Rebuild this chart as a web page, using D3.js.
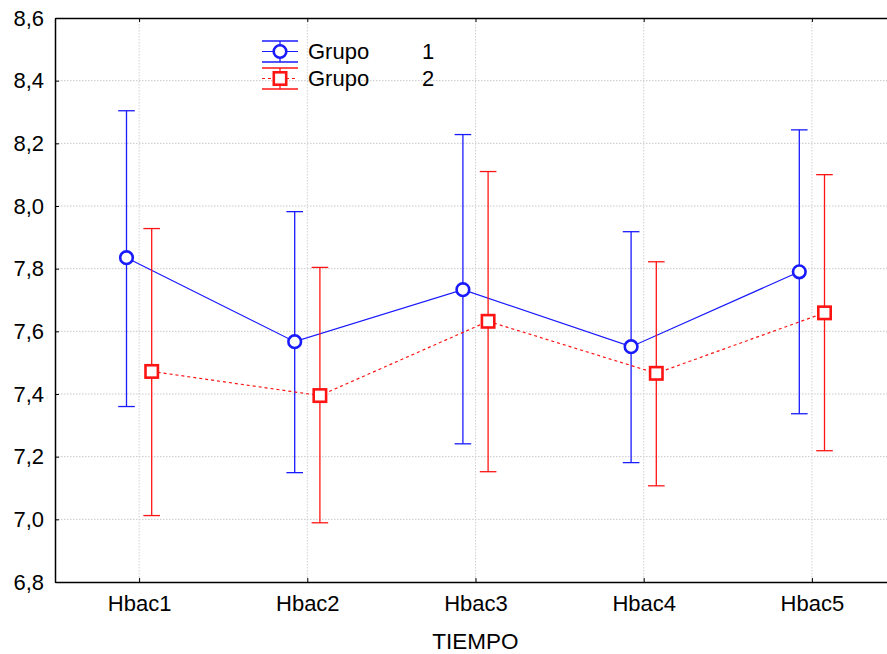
<!DOCTYPE html>
<html>
<head>
<meta charset="utf-8">
<script src="https://cdn.jsdelivr.net/npm/d3@7/dist/d3.min.js"></script>
<style>
  html, body { margin: 0; padding: 0; background: #fff; }
  svg { display: block; font-family: "Liberation Sans", Arial, sans-serif; }
</style>
</head>
<body>
<svg id="chart" width="887" height="654"></svg>
<script>
// Categories on the x axis
const categories = ["Hbac1", "Hbac2", "Hbac3", "Hbac4", "Hbac5"];

// Group 1: means and confidence limits
const grupo1Mean  = [7.835, 7.567, 7.733, 7.551, 7.790];
const grupo1Lower = [7.360, 7.149, 7.241, 7.181, 7.337];
const grupo1Upper = [8.304, 7.982, 8.228, 7.918, 8.243];

// Group 2: means and confidence limits
const grupo2Mean  = [7.472, 7.395, 7.632, 7.466, 7.659];
const grupo2Lower = [7.012, 6.989, 7.152, 7.107, 7.219];
const grupo2Upper = [7.928, 7.804, 8.110, 7.822, 8.100];

// Y tick values and labels
const yTicks = [6.8, 7.0, 7.2, 7.4, 7.6, 7.8, 8.0, 8.2, 8.4, 8.6];
const yTickLabels = ["6,8", "7,0", "7,2", "7,4", "7,6", "7,8", "8,0", "8,2", "8,4", "8,6"];

const xTitle = "TIEMPO";
const legendNames = ["Grupo", "Grupo"];
const legendCodes = ["1", "2"];

(function draw() {
  const svg = d3.select("#chart");
  const mLeft = 55, mTop = 18, mBottom = 582, mRight = 896;
  const fontSize = 22;

  const x = d3.scalePoint().domain(categories).range([mLeft, mRight]).padding(0.5);
  const y = d3.scaleLinear().domain([6.8, 8.6]).range([mBottom, mTop]);

  const groups = [
    { mean: grupo1Mean, lower: grupo1Lower, upper: grupo1Upper, color: "#1a1aff", offset: -12.6, marker: "circle", dash: null },
    { mean: grupo2Mean, lower: grupo2Lower, upper: grupo2Upper, color: "#ff1414", offset: 12.6, marker: "square", dash: "3,3" }
  ];

  // Grid lines
  const grid = svg.append("g");
  grid.selectAll("line.h").data(yTicks.slice(1, -1)).join("line")
    .attr("x1", mLeft).attr("x2", mRight)
    .attr("y1", d => y(d)).attr("y2", d => y(d))
    .attr("stroke", "#c8c8c8").attr("stroke-width", 1).attr("stroke-dasharray", "1.5,1.5");
  grid.selectAll("line.v").data(categories).join("line")
    .attr("x1", d => x(d)).attr("x2", d => x(d))
    .attr("y1", mTop).attr("y2", mBottom)
    .attr("stroke", "#d0d0d0").attr("stroke-width", 1).attr("stroke-dasharray", "1.5,1.5");

  // Axes
  const yAxis = d3.axisLeft(y).tickValues(yTicks).tickFormat((d, i) => yTickLabels[i])
    .tickSizeInner(-4).tickSizeOuter(0).tickPadding(11);
  const gy = svg.append("g").attr("transform", `translate(${mLeft},0)`).call(yAxis);
  gy.select(".domain").attr("stroke", "#000").attr("stroke-width", 1.5);
  gy.selectAll(".tick line").attr("stroke", "#000");
  gy.selectAll(".tick text").attr("font-size", fontSize).attr("fill", "#000")
    .attr("font-family", "Liberation Sans, Arial, sans-serif");

  const xAxis = d3.axisBottom(x).tickSizeInner(-4).tickSizeOuter(0).tickPadding(13);
  const gx = svg.append("g").attr("transform", `translate(0,${mBottom})`).call(xAxis);
  gx.select(".domain").attr("stroke", "#000").attr("stroke-width", 1.5);
  gx.selectAll(".tick line").attr("stroke", "#000");
  gx.selectAll(".tick text").attr("font-size", fontSize).attr("fill", "#000")
    .attr("font-family", "Liberation Sans, Arial, sans-serif");

  const xTopAxis = d3.axisTop(x).tickSizeInner(-4).tickSizeOuter(0).tickFormat("");
  const gt = svg.append("g").attr("transform", `translate(0,${mTop})`).call(xTopAxis);
  gt.select(".domain").attr("stroke", "#000").attr("stroke-width", 1.5);
  gt.selectAll(".tick line").attr("stroke", "#000");

  // Right frame (extends past the visible edge)
  svg.append("line").attr("x1", mRight).attr("x2", mRight).attr("y1", mTop).attr("y2", mBottom)
    .attr("stroke", "#000").attr("stroke-width", 1.5);

  svg.append("text").attr("x", (mLeft + mRight) / 2).attr("y", 649)
    .attr("text-anchor", "middle").attr("font-size", fontSize + 0.5).attr("fill", "#000")
    .text(xTitle);

  // Series: connecting lines, error bars, markers
  const capHalf = 8.3;
  groups.forEach(g => {
    const pts = categories.map((c, i) => ({ c, i, m: g.mean[i], lo: g.lower[i], hi: g.upper[i] }));
    const px = d => x(d.c) + g.offset;
    const line = d3.line().x(px).y(d => y(d.m));
    svg.append("path").datum(pts).attr("d", line)
      .attr("fill", "none").attr("stroke", g.color).attr("stroke-width", 1.2)
      .attr("stroke-dasharray", g.dash);

    const eb = svg.append("g").attr("stroke", g.color).attr("stroke-width", 1.3);
    eb.selectAll("line.stem").data(pts).join("line")
      .attr("x1", px).attr("x2", px).attr("y1", d => y(d.lo)).attr("y2", d => y(d.hi));
    eb.selectAll("line.capHi").data(pts).join("line")
      .attr("x1", d => px(d) - capHalf).attr("x2", d => px(d) + capHalf)
      .attr("y1", d => y(d.hi)).attr("y2", d => y(d.hi));
    eb.selectAll("line.capLo").data(pts).join("line")
      .attr("x1", d => px(d) - capHalf).attr("x2", d => px(d) + capHalf)
      .attr("y1", d => y(d.lo)).attr("y2", d => y(d.lo));

    if (g.marker === "circle") {
      svg.append("g").selectAll("circle").data(pts).join("circle")
        .attr("cx", px).attr("cy", d => y(d.m)).attr("r", 6.3)
        .attr("fill", "#fff").attr("stroke", g.color).attr("stroke-width", 2.6);
    } else {
      svg.append("g").selectAll("rect").data(pts).join("rect")
        .attr("x", d => px(d) - 6.2).attr("y", d => y(d.m) - 6.2)
        .attr("width", 12.4).attr("height", 12.4)
        .attr("fill", "#fff").attr("stroke", g.color).attr("stroke-width", 2.6);
    }
  });

  // Legend
  const legX0 = 262, legX1 = 298, legRows = [51.5, 78.5];
  groups.forEach((g, i) => {
    const cy = legRows[i], cx = (legX0 + legX1) / 2;
    const lg = svg.append("g");
    lg.append("line").attr("x1", legX0).attr("x2", legX1).attr("y1", cy - 10.5).attr("y2", cy - 10.5)
      .attr("stroke", g.color).attr("stroke-width", 1.3);
    lg.append("line").attr("x1", legX0).attr("x2", legX1).attr("y1", cy + 10.5).attr("y2", cy + 10.5)
      .attr("stroke", g.color).attr("stroke-width", 1.3);
    lg.append("line").attr("x1", cx).attr("x2", cx).attr("y1", cy - 10.5).attr("y2", cy + 10.5)
      .attr("stroke", g.color).attr("stroke-width", 1.3);
    lg.append("line").attr("x1", legX0).attr("x2", legX1).attr("y1", cy).attr("y2", cy)
      .attr("stroke", g.color).attr("stroke-width", 1.2).attr("stroke-dasharray", g.dash);
    if (g.marker === "circle") {
      lg.append("circle").attr("cx", cx).attr("cy", cy).attr("r", 6.3)
        .attr("fill", "#fff").attr("stroke", g.color).attr("stroke-width", 2.6);
    } else {
      lg.append("rect").attr("x", cx - 6.2).attr("y", cy - 6.2).attr("width", 12.4).attr("height", 12.4)
        .attr("fill", "#fff").attr("stroke", g.color).attr("stroke-width", 2.6);
    }
    lg.append("text").attr("x", 308).attr("y", cy).attr("dy", "0.36em")
      .attr("font-size", fontSize).attr("fill", "#000").text(legendNames[i]);
    lg.append("text").attr("x", 428).attr("y", cy).attr("dy", "0.36em").attr("text-anchor", "middle")
      .attr("font-size", fontSize).attr("fill", "#000").text(legendCodes[i]);
  });
})();
</script>
</body>
</html>
